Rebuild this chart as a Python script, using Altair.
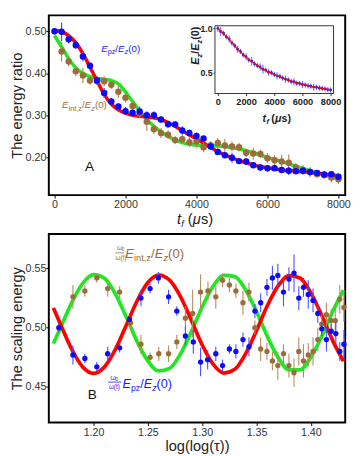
import altair as alt
import pandas as pd

FONT = "Liberation Sans"
BLUE = "#0a0aff"
BLUE_ERR = "#4a4aff"
BROWN = "#9c6c3a"
BROWN_ERR = "#b38b5f"
RED = "#ff0000"
GREEN = "#22e622"
BLUE_TXT = "#1a1aff"
BROWN_TXT = "#9c6a3a"

# ---------------- Panel A data ----------------
a_t_blue = [0, 200, 400, 600, 800, 1000, 1200, 1400, 1600, 1800, 2000, 2200, 2400, 2600, 2800,
            3000, 3200, 3400, 3600, 3800, 4000, 4200, 4400, 4600, 4800, 5000, 5200, 5400, 5600,
            5800, 6000, 6200, 6400, 6600, 6800, 7000, 7200, 7400, 7600, 7800, 8000]
a_v_blue = [0.500, 0.499, 0.481, 0.467, 0.440, 0.418, 0.383, 0.353, 0.333, 0.321, 0.310, 0.306,
            0.309, 0.300, 0.300, 0.290, 0.279, 0.278, 0.264, 0.258, 0.251, 0.245, 0.226, 0.213,
            0.205, 0.199, 0.191, 0.190, 0.181, 0.176, 0.174, 0.174, 0.170, 0.168, 0.167, 0.168,
            0.165, 0.163, 0.159, 0.160, 0.154]
a_e_blue = [0.008, 0.022, 0.010, 0.008, 0.012, 0.008, 0.010, 0.012, 0.008, 0.008, 0.010, 0.008,
            0.012, 0.010, 0.010, 0.008, 0.008, 0.008, 0.010, 0.008, 0.008, 0.006, 0.008, 0.008,
            0.006, 0.012, 0.006, 0.008, 0.006, 0.008, 0.008, 0.006, 0.006, 0.010, 0.006, 0.006,
            0.008, 0.006, 0.006, 0.006, 0.008]

a_t_brown = [200, 400, 600, 800, 1000, 1200, 1400, 1600, 1800, 2000, 2200, 2400, 2600, 2800,
             3000, 3200, 3400, 3600, 3800, 4000, 4200, 4400, 4600, 4800, 5000, 5200, 5400, 5600,
             5800, 6000, 6200, 6400, 6600, 6800, 7000, 7200, 7400, 7600, 7800, 8000]
a_v_brown = [0.452, 0.428, 0.405, 0.395, 0.383, 0.381, 0.381, 0.373, 0.356, 0.342, 0.322, 0.305,
             0.285, 0.267, 0.258, 0.254, 0.241, 0.243, 0.236, 0.238, 0.224, 0.229, 0.234, 0.228,
             0.226, 0.224, 0.211, 0.209, 0.208, 0.198, 0.193, 0.190, 0.187, 0.176, 0.170, 0.165,
             0.160, 0.158, 0.152, 0.148]
a_e_brown = [0.024, 0.012, 0.012, 0.018, 0.010, 0.008, 0.012, 0.010, 0.014, 0.012, 0.010, 0.012,
             0.022, 0.012, 0.012, 0.010, 0.010, 0.010, 0.012, 0.016, 0.012, 0.010, 0.012, 0.016,
             0.012, 0.010, 0.010, 0.014, 0.010, 0.012, 0.012, 0.016, 0.020, 0.010, 0.012, 0.012,
             0.010, 0.010, 0.012, 0.012]

a_t_red = [0, 200, 400, 600, 800, 1000, 1200, 1400, 1600, 1800, 2000, 2200, 2400, 2600, 2800,
           3000, 3200, 3400, 3600, 3800, 4000, 4200, 4400, 4600, 4800, 5000, 5200, 5400, 5600,
           5800, 6000, 6400, 6800, 7200, 7600, 8000]
a_v_red = [0.502, 0.499, 0.490, 0.473, 0.447, 0.415, 0.382, 0.350, 0.327, 0.313, 0.305, 0.300,
           0.298, 0.296, 0.294, 0.290, 0.283, 0.274, 0.263, 0.253, 0.244, 0.234, 0.224, 0.214,
           0.206, 0.199, 0.192, 0.187, 0.182, 0.178, 0.175, 0.170, 0.167, 0.164, 0.160, 0.156]

a_t_green = [0, 200, 400, 600, 800, 1000, 1200, 1400, 1600, 1800, 2000, 2200, 2400, 2600, 2800,
             3000, 3200, 3400, 3600, 3800, 4000, 4400, 4800, 5200, 5600, 6000, 6400, 6800, 7200,
             7600, 8000]
a_v_green = [0.490, 0.463, 0.435, 0.413, 0.400, 0.392, 0.388, 0.386, 0.383, 0.375, 0.356, 0.333,
             0.310, 0.290, 0.274, 0.261, 0.250, 0.241, 0.235, 0.231, 0.229, 0.228, 0.226, 0.220,
             0.211, 0.200, 0.190, 0.179, 0.168, 0.158, 0.149]

# inset: E_z / E_z(0)
in_t = [0, 200, 400, 600, 800, 1000, 1200, 1400, 1600, 1800, 2000, 2200, 2400, 2600, 2800,
        3000, 3200, 3400, 3600, 3800, 4000, 4200, 4400, 4600, 4800, 5000, 5200, 5400, 5600,
        5800, 6000, 6200, 6400, 6600, 6800, 7000, 7200, 7400, 7600, 7800, 8000]
in_v = [1.00, 0.965, 0.945, 0.905, 0.880, 0.835, 0.805, 0.765, 0.740, 0.700, 0.680, 0.645,
        0.630, 0.600, 0.580, 0.565, 0.540, 0.530, 0.505, 0.500, 0.480, 0.465, 0.458, 0.440,
        0.428, 0.418, 0.402, 0.398, 0.382, 0.378, 0.368, 0.362, 0.352, 0.348, 0.338, 0.336,
        0.328, 0.322, 0.318, 0.310, 0.306]
in_e = [0.04, 0.05, 0.03, 0.03, 0.04, 0.03, 0.03, 0.04, 0.03, 0.03, 0.04, 0.03, 0.05, 0.03,
        0.03, 0.04, 0.05, 0.03, 0.04, 0.03, 0.03, 0.04, 0.03, 0.03, 0.04, 0.03, 0.03, 0.04,
        0.03, 0.03, 0.04, 0.03, 0.03, 0.03, 0.04, 0.03, 0.03, 0.03, 0.03, 0.03, 0.03]
in_fit_t = [0, 500, 1000, 1500, 2000, 2500, 3000, 3500, 4000, 5000, 6000, 7000, 8000]
in_fit_v = [1.0, 0.925, 0.84, 0.752, 0.675, 0.615, 0.56, 0.515, 0.48, 0.415, 0.37, 0.335, 0.305]

# ---------------- Panel B data ----------------
b_x_blue = [1.168, 1.181, 1.192, 1.203, 1.213, 1.224, 1.233, 1.2436, 1.252, 1.2596, 1.269,
            1.2766, 1.2845, 1.2918, 1.2985, 1.305, 1.3125, 1.3187, 1.325, 1.331, 1.3375, 1.343,
            1.3485, 1.3538, 1.3596, 1.3646, 1.3696, 1.3748, 1.3798, 1.3845, 1.3889, 1.3932,
            1.3976, 1.402, 1.4064, 1.410, 1.4143, 1.4187, 1.423, 1.4266, 1.4304]
b_v_blue = [0.500, 0.477, 0.474, 0.467, 0.478, 0.483, 0.507, 0.525, 0.533, 0.542, 0.526, 0.514,
            0.493, 0.488, 0.471, 0.473, 0.478, 0.468, 0.482, 0.480, 0.490, 0.484, 0.514, 0.521,
            0.534, 0.542, 0.544, 0.530, 0.541, 0.546, 0.525, 0.534, 0.528, 0.523, 0.512, 0.499,
            0.490, 0.497, 0.495, 0.480, 0.486]
b_e_blue = [0.004, 0.008, 0.004, 0.004, 0.006, 0.004, 0.005, 0.007, 0.004, 0.005, 0.006, 0.004,
            0.008, 0.010, 0.012, 0.008, 0.006, 0.005, 0.004, 0.006, 0.006, 0.008, 0.006, 0.008,
            0.007, 0.010, 0.010, 0.012, 0.010, 0.016, 0.010, 0.008, 0.012, 0.010, 0.008, 0.006,
            0.010, 0.006, 0.010, 0.008, 0.012]

b_x_brown = [1.181, 1.192, 1.203, 1.213, 1.224, 1.234, 1.2436, 1.252, 1.260, 1.269, 1.2766,
             1.2845, 1.2912, 1.2985, 1.3053, 1.3125, 1.3187, 1.325, 1.331, 1.3375, 1.343, 1.3485,
             1.3538, 1.3596, 1.3646, 1.3696, 1.3748, 1.3798, 1.3845, 1.3889, 1.3932, 1.3976,
             1.402, 1.4064, 1.410, 1.4143, 1.4187, 1.4225, 1.4266, 1.4304]
b_v_brown = [0.526, 0.531, 0.542, 0.533, 0.530, 0.504, 0.486, 0.475, 0.478, 0.478, 0.488, 0.508,
             0.512, 0.530, 0.531, 0.526, 0.540, 0.536, 0.531, 0.521, 0.530, 0.500, 0.482, 0.480,
             0.472, 0.468, 0.478, 0.468, 0.462, 0.480, 0.472, 0.477, 0.480, 0.490, 0.503, 0.511,
             0.506, 0.506, 0.524, 0.517]
b_e_brown = [0.010, 0.005, 0.004, 0.007, 0.005, 0.005, 0.008, 0.004, 0.006, 0.007, 0.006, 0.010,
             0.020, 0.015, 0.008, 0.010, 0.006, 0.006, 0.006, 0.010, 0.008, 0.006, 0.010, 0.007,
             0.008, 0.012, 0.008, 0.010, 0.012, 0.012, 0.014, 0.010, 0.012, 0.010, 0.008, 0.010,
             0.010, 0.014, 0.012, 0.012]

b_x_fit = [1.163, 1.17, 1.18, 1.19, 1.20, 1.21, 1.22, 1.23, 1.24, 1.25, 1.26, 1.27, 1.28, 1.29,
           1.30, 1.31, 1.32, 1.33, 1.34, 1.35, 1.36, 1.37, 1.38, 1.39, 1.40, 1.41, 1.42, 1.43]
b_v_red = [0.5167, 0.5019, 0.4816, 0.4669, 0.4615, 0.4669, 0.4816, 0.5019, 0.5225, 0.5381,
           0.5444, 0.5401, 0.5262, 0.5062, 0.4854, 0.4692, 0.4617, 0.4649, 0.4781, 0.4977,
           0.5187, 0.5354, 0.5439, 0.5419, 0.5294, 0.5104, 0.4893, 0.4718]
b_v_green = [0.4866, 0.5008, 0.5214, 0.5374, 0.5448, 0.5416, 0.5286, 0.5092, 0.4885, 0.4719,
             0.4635, 0.4657, 0.4778, 0.4966, 0.5175, 0.5349, 0.5441, 0.5431, 0.5318, 0.5134,
             0.4925, 0.4746, 0.4644, 0.4644, 0.4751, 0.4925, 0.5134, 0.5316]

# ---------------- layout ----------------
W = 305
HA = 185
HB = 194

AX_DOM = [-160, 8190]
AY_DOM = [0.11, 0.538]
IX_DOM = [-207, 8207]
IY_DOM = [0.266, 1.03]
IX_RANGE = [171, 293]
IY_RANGE = [80.4, 10.7]
BX_DOM = [1.1588, 1.4316]
BY_DOM = [0.42, 0.579]

ONE = pd.DataFrame({"k": [0]})


def axis_common(**kw):
    base = dict(grid=False, domain=False, ticks=True, tickSize=3, tickColor="black",
                labelFont=FONT, labelFontSize=11, labelColor="#333333", labelPadding=0,
                labelFlush=False, labelOverlap=False, titleFont=FONT, titleFontSize=15,
                titleFontWeight="normal", titleColor="#222222", titlePadding=1)
    base.update(kw)
    return alt.Axis(**base)


def mkscale(dom, rng=None):
    if rng is None:
        return alt.Scale(domain=dom, nice=False, zero=False)
    return alt.Scale(domain=dom, nice=False, zero=False, range=rng)


def enc_xy(xdom, ydom, xaxis=None, yaxis=None, xrange=None, yrange=None, xf="x", yf="y"):
    xs = mkscale(xdom, xrange)
    ys = mkscale(ydom, yrange)
    xkw = {} if xaxis is None else {"axis": xaxis}
    ykw = {} if yaxis is None else {"axis": yaxis}
    return (alt.X(f"{xf}:Q", scale=xs, **xkw), alt.Y(f"{yf}:Q", scale=ys, **ykw), xs, ys)


def rich(x, y, pieces, color, xdom, ydom, xrange=None, yrange=None, angle=0):
    df = pd.DataFrame({"x": [x], "y": [y]})
    X, Y, _, _ = enc_xy(xdom, ydom, xrange=xrange, yrange=yrange)
    out = []
    for (txt, dx, dy, size, style, weight) in pieces:
        out.append(alt.Chart(df).mark_text(
            text=txt, dx=dx, dy=dy, fontSize=size, fontStyle=style, fontWeight=weight,
            font=FONT, color=color, align="left", baseline="alphabetic", angle=angle
        ).encode(x=X, y=Y))
    return out


def series_layers(xs, vs, es, color, ecolor, size, xdom, ydom, ew=1.2):
    df = pd.DataFrame({"x": xs, "y": vs, "e": es})
    df["lo"] = df["y"] - df["e"]
    df["hi"] = df["y"] + df["e"]
    X, _, _, ys = enc_xy(xdom, ydom)
    bars = alt.Chart(df).mark_rule(color=ecolor, strokeWidth=ew).encode(
        x=X, y=alt.Y("lo:Q", scale=ys), y2="hi:Q")
    X2, Y2, _, _ = enc_xy(xdom, ydom)
    pts = alt.Chart(df).mark_circle(color=color, size=size, opacity=1).encode(x=X2, y=Y2)
    return [bars, pts]


def line_layer(xs, vs, color, width, xdom, ydom, xaxis=None, yaxis=None):
    df = pd.DataFrame({"x": xs, "y": vs})
    X, Y, _, _ = enc_xy(xdom, ydom, xaxis=xaxis, yaxis=yaxis)
    return alt.Chart(df).mark_line(color=color, strokeWidth=width, interpolate="monotone").encode(x=X, y=Y)


# ---------------- Panel A main ----------------
ax_axis = axis_common(values=[0, 2000, 4000, 6000, 8000], format="d", title=None, labelPadding=1)
ay_axis = axis_common(values=[0.2, 0.3, 0.4, 0.5], format=".2f", title="The energy ratio")

a_layers = [
    line_layer(a_t_green, a_v_green, GREEN, 3.6, AX_DOM, AY_DOM, xaxis=ax_axis, yaxis=ay_axis),
    line_layer(a_t_red, a_v_red, RED, 3.6, AX_DOM, AY_DOM),
]
a_layers += series_layers(a_t_brown, a_v_brown, a_e_brown, BROWN, BROWN_ERR, 44, AX_DOM, AY_DOM)
a_layers += series_layers(a_t_blue, a_v_blue, a_e_blue, BLUE, BLUE_ERR, 44, AX_DOM, AY_DOM)

a_layers += rich(1315, 0.4515, [
    ("E", 0, 0, 10, "italic", "normal"), ("pz", 6.7, 2.5, 7.5, "normal", "normal"),
    ("/", 14.6, 0, 10, "normal", "normal"), ("E", 17.4, 0, 10, "italic", "normal"),
    ("z", 24.1, 2.5, 7.5, "italic", "normal"), ("(0)", 27.9, 0, 10, "normal", "normal")],
    BLUE_TXT, AX_DOM, AY_DOM)
a_layers += rich(215, 0.3172, [
    ("E", 0, 0, 10, "italic", "normal"), ("int,z", 6.7, 2.5, 7.5, "normal", "normal"),
    ("/", 20.5, 0, 10, "normal", "normal"), ("E", 23.3, 0, 10, "italic", "normal"),
    ("z", 30.0, 2.5, 7.5, "italic", "normal"), ("(0)", 33.8, 0, 10, "normal", "normal")],
    BROWN_TXT, AX_DOM, AY_DOM)
a_layers += rich(993, 0.1785, [("A", -5, 5, 14, "normal", "normal")], "#111111", AX_DOM, AY_DOM)

# x-axis title t_f (μs) for panel A
for (txt, dx, dy, size, style) in [("t", 0, 0, 15, "italic"), ("f", 4.4, 3, 9.5, "italic"),
                                   ("(", 11, 0, 15, "normal"), ("μ", 16, 0, 15, "italic"),
                                   ("s)", 24.6, 0, 15, "normal")]:
    a_layers.append(alt.Chart(ONE).mark_text(
        text=txt, dx=dx, dy=dy, fontSize=size, fontStyle=style, font=FONT, color="#222222",
        align="left", baseline="alphabetic").encode(x=alt.value(132), y=alt.value(HA + 30)))

a_main = alt.layer(*a_layers)

# ---------------- Panel A inset ----------------
ix_axis = alt.Axis(orient="bottom", offset=-(HA - IY_RANGE[0]), values=[0, 2000, 4000, 6000, 8000],
                   format="d", title=None, grid=False, domain=False, tickSize=2, tickColor="#222",
                   labelFont=FONT, labelFontSize=9.5, labelFontWeight="bold", labelColor="#222222",
                   labelPadding=1, labelFlush=False, labelOverlap=False)
iy_axis = alt.Axis(orient="left", offset=-IX_RANGE[0], values=[0.5, 1.0], format=".1f", title=None,
                   grid=False, domain=False, tickSize=2, tickColor="#222", labelFont=FONT,
                   labelFontSize=9, labelFontWeight="bold", labelColor="#222222", labelPadding=1,
                   labelFlush=False, labelOverlap=False)

frame_df = pd.DataFrame({"x": [IX_DOM[0]], "x2": [IX_DOM[1]], "y": [IY_DOM[0]], "y2": [IY_DOM[1]]})
fX, fY, _, _ = enc_xy(IX_DOM, IY_DOM, xaxis=ix_axis, yaxis=iy_axis, xrange=IX_RANGE, yrange=IY_RANGE)
in_layers = [alt.Chart(frame_df).mark_rect(fill="white", stroke="#333333", strokeWidth=1).encode(
    x=fX, x2="x2:Q", y=fY, y2="y2:Q")]

in_df = pd.DataFrame({"x": in_t, "y": in_v, "e": in_e})
in_df["lo"] = in_df["y"] - in_df["e"]
in_df["hi"] = in_df["y"] + in_df["e"]
iX, iY, _, iys = enc_xy(IX_DOM, IY_DOM, xrange=IX_RANGE, yrange=IY_RANGE)
in_layers.append(alt.Chart(in_df).mark_rule(color="#5a5aff", strokeWidth=1).encode(
    x=iX, y=alt.Y("lo:Q", scale=iys), y2="hi:Q"))
in_layers.append(alt.Chart(in_df).mark_circle(color="#2a2ad8", size=9, opacity=1).encode(x=iX, y=iY))
in_fit_df = pd.DataFrame({"x": in_fit_t, "y": in_fit_v})
in_layers.append(alt.Chart(in_fit_df).mark_line(color=RED, strokeWidth=1.3, interpolate="monotone").encode(
    x=iX, y=iY))
in_layers += rich(3172, -0.052, [
    ("t", 0, 0, 11, "italic", "bold"), ("f", 3.9, 2.5, 7.5, "italic", "bold"),
    ("(", 9, 0, 11, "normal", "bold"), ("μ", 12.7, 0, 11, "italic", "bold"),
    ("s)", 19.4, 0, 11, "normal", "bold")],
    "#222222", IX_DOM, IY_DOM, xrange=IX_RANGE, yrange=IY_RANGE)
in_layers += rich(-1310, 0.591, [
    ("E", 0, 0, 11, "italic", "bold"), ("z", 7.3, 2.5, 7.5, "italic", "bold"),
    ("/", 11.3, 0, 11, "normal", "bold"), ("E", 14.4, 0, 11, "italic", "bold"),
    ("z", 21.7, 2.5, 7.5, "italic", "bold"), ("(0)", 25.7, 0, 11, "normal", "bold")],
    "#222222", IX_DOM, IY_DOM, xrange=IX_RANGE, yrange=IY_RANGE, angle=270)

a_inset = alt.layer(*in_layers)

panel_a = alt.layer(a_main, a_inset).resolve_scale(x="independent", y="independent").properties(
    width=W, height=HA)

# ---------------- Panel B ----------------
bx_axis = axis_common(values=[1.20, 1.25, 1.30, 1.35, 1.40], format=".2f", title="log(log(τ))",
                      labelPadding=1, titlePadding=2)
by_axis = axis_common(values=[0.45, 0.50, 0.55], format=".2f", title="The scaling energy")

b_layers = [
    line_layer(b_x_fit, b_v_green, GREEN, 3.8, BX_DOM, BY_DOM, xaxis=bx_axis, yaxis=by_axis),
    line_layer(b_x_fit, b_v_red, RED, 3.8, BX_DOM, BY_DOM),
]
b_layers += series_layers(b_x_brown, b_v_brown, b_e_brown, BROWN, BROWN_ERR, 30, BX_DOM, BY_DOM, ew=1.1)
b_layers += series_layers(b_x_blue, b_v_blue, b_e_blue, BLUE, BLUE_ERR, 30, BX_DOM, BY_DOM, ew=1.1)

frac_df = pd.DataFrame({"x": [1.2202, 1.2132], "x2": [1.2281, 1.2255], "y": [0.5631, 0.4541],
                        "c": ["b", "a"]})
fx, fy, _, _ = enc_xy(BX_DOM, BY_DOM)
b_layers.append(alt.Chart(frac_df).mark_rule(strokeWidth=0.8).encode(
    x=fx, x2="x2:Q", y=fy,
    color=alt.Color("c:N", scale=alt.Scale(domain=["a", "b"], range=[BLUE_TXT, BROWN_TXT]), legend=None)))

b_layers += rich(1.2202, 0.5631, [
    ("ω", 1.5, -2.5, 7.5, "normal", "normal"), ("0", 6.5, -1.5, 5, "normal", "normal"),
    ("ω(t)", 0, 7.5, 6.5, "normal", "normal"),
    ("E", 10, 5, 13.5, "italic", "normal"), ("int,z", 19, 8, 9.5, "normal", "normal"),
    ("/", 36.5, 5, 13.5, "normal", "normal"), ("E", 40.3, 5, 13.5, "italic", "normal"),
    ("z", 49.3, 8, 9.5, "italic", "normal"), ("(0)", 54.1, 5, 13.5, "normal", "normal")],
    BROWN_TXT, BX_DOM, BY_DOM)
b_layers += rich(1.2132, 0.4541, [
    ("ω", 2.5, -2.5, 7.5, "normal", "normal"), ("0", 7.5, -1.5, 5, "normal", "normal"),
    ("ω(t)", 1, 7.5, 6.5, "normal", "normal"),
    ("E", 15, 6, 13, "italic", "normal"), ("pz", 23.7, 9, 9, "normal", "normal"),
    ("/", 33.2, 6, 13, "normal", "normal"), ("E", 36.8, 6, 13, "italic", "normal"),
    ("z", 45.5, 9, 9, "italic", "normal"), ("(0)", 50, 6, 13, "normal", "normal")],
    BLUE_TXT, BX_DOM, BY_DOM)
b_layers += rich(1.199, 0.4443, [("B", -5, 5, 14, "normal", "normal")], "#111111", BX_DOM, BY_DOM)

panel_b = alt.layer(*b_layers).properties(width=W, height=HB)

chart = alt.vconcat(panel_a, panel_b, spacing=3).properties(
    padding={"left": 0, "top": 0, "right": 0, "bottom": 0}
).configure_view(stroke="black", strokeWidth=2)

chart.save("out.html", embed_options={"renderer": "svg", "actions": False})
